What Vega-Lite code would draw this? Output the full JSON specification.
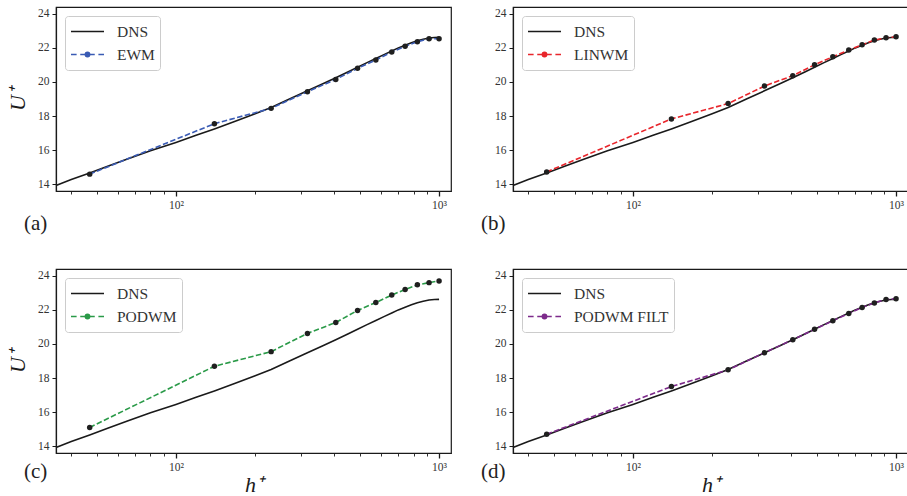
{
  "$schema": "https://vega.github.io/schema/vega-lite/v6.json",
  "padding": {"top": 6, "left": 5, "right": 0, "bottom": 0},
  "datasets": {
    "dns": [
      {"series": "DNS", "h": 35, "U": 13.93},
      {"series": "DNS", "h": 40, "U": 14.27},
      {"series": "DNS", "h": 47, "U": 14.66},
      {"series": "DNS", "h": 55, "U": 15.05},
      {"series": "DNS", "h": 65, "U": 15.46},
      {"series": "DNS", "h": 80, "U": 15.96},
      {"series": "DNS", "h": 100, "U": 16.45},
      {"series": "DNS", "h": 120, "U": 16.88},
      {"series": "DNS", "h": 140, "U": 17.24},
      {"series": "DNS", "h": 170, "U": 17.72},
      {"series": "DNS", "h": 200, "U": 18.13},
      {"series": "DNS", "h": 230, "U": 18.5},
      {"series": "DNS", "h": 270, "U": 19.0},
      {"series": "DNS", "h": 316, "U": 19.48},
      {"series": "DNS", "h": 360, "U": 19.88},
      {"series": "DNS", "h": 405, "U": 20.25},
      {"series": "DNS", "h": 450, "U": 20.58},
      {"series": "DNS", "h": 490, "U": 20.86},
      {"series": "DNS", "h": 530, "U": 21.12},
      {"series": "DNS", "h": 575, "U": 21.38},
      {"series": "DNS", "h": 620, "U": 21.62},
      {"series": "DNS", "h": 661, "U": 21.82},
      {"series": "DNS", "h": 700, "U": 22.0},
      {"series": "DNS", "h": 743, "U": 22.16},
      {"series": "DNS", "h": 785, "U": 22.3},
      {"series": "DNS", "h": 827, "U": 22.42},
      {"series": "DNS", "h": 870, "U": 22.51},
      {"series": "DNS", "h": 916, "U": 22.58},
      {"series": "DNS", "h": 960, "U": 22.61},
      {"series": "DNS", "h": 1000, "U": 22.62}
    ],
    "models": [
      {"panel": "a", "series": "EWM", "h": 47, "U": 14.59},
      {"panel": "a", "series": "EWM", "h": 140, "U": 17.55},
      {"panel": "a", "series": "EWM", "h": 230, "U": 18.45},
      {"panel": "a", "series": "EWM", "h": 316, "U": 19.43},
      {"panel": "a", "series": "EWM", "h": 405, "U": 20.15},
      {"panel": "a", "series": "EWM", "h": 490, "U": 20.8},
      {"panel": "a", "series": "EWM", "h": 575, "U": 21.29},
      {"panel": "a", "series": "EWM", "h": 661, "U": 21.76},
      {"panel": "a", "series": "EWM", "h": 743, "U": 22.09},
      {"panel": "a", "series": "EWM", "h": 827, "U": 22.36},
      {"panel": "a", "series": "EWM", "h": 916, "U": 22.54},
      {"panel": "a", "series": "EWM", "h": 1000, "U": 22.54},
      {"panel": "b", "series": "LINWM", "h": 47, "U": 14.72},
      {"panel": "b", "series": "LINWM", "h": 140, "U": 17.83},
      {"panel": "b", "series": "LINWM", "h": 230, "U": 18.73},
      {"panel": "b", "series": "LINWM", "h": 316, "U": 19.76},
      {"panel": "b", "series": "LINWM", "h": 405, "U": 20.37},
      {"panel": "b", "series": "LINWM", "h": 490, "U": 21.01},
      {"panel": "b", "series": "LINWM", "h": 575, "U": 21.48},
      {"panel": "b", "series": "LINWM", "h": 661, "U": 21.87},
      {"panel": "b", "series": "LINWM", "h": 743, "U": 22.18},
      {"panel": "b", "series": "LINWM", "h": 827, "U": 22.46},
      {"panel": "b", "series": "LINWM", "h": 916, "U": 22.59},
      {"panel": "b", "series": "LINWM", "h": 1000, "U": 22.65},
      {"panel": "c", "series": "PODWM", "h": 47, "U": 15.1},
      {"panel": "c", "series": "PODWM", "h": 140, "U": 18.69},
      {"panel": "c", "series": "PODWM", "h": 230, "U": 19.55},
      {"panel": "c", "series": "PODWM", "h": 316, "U": 20.62},
      {"panel": "c", "series": "PODWM", "h": 405, "U": 21.26},
      {"panel": "c", "series": "PODWM", "h": 490, "U": 21.97},
      {"panel": "c", "series": "PODWM", "h": 575, "U": 22.43},
      {"panel": "c", "series": "PODWM", "h": 661, "U": 22.87},
      {"panel": "c", "series": "PODWM", "h": 743, "U": 23.2},
      {"panel": "c", "series": "PODWM", "h": 827, "U": 23.47},
      {"panel": "c", "series": "PODWM", "h": 916, "U": 23.6},
      {"panel": "c", "series": "PODWM", "h": 1000, "U": 23.7},
      {"panel": "d", "series": "PODWM FILT", "h": 47, "U": 14.7},
      {"panel": "d", "series": "PODWM FILT", "h": 140, "U": 17.5},
      {"panel": "d", "series": "PODWM FILT", "h": 230, "U": 18.48},
      {"panel": "d", "series": "PODWM FILT", "h": 316, "U": 19.49},
      {"panel": "d", "series": "PODWM FILT", "h": 405, "U": 20.25},
      {"panel": "d", "series": "PODWM FILT", "h": 490, "U": 20.86},
      {"panel": "d", "series": "PODWM FILT", "h": 575, "U": 21.36},
      {"panel": "d", "series": "PODWM FILT", "h": 661, "U": 21.79},
      {"panel": "d", "series": "PODWM FILT", "h": 743, "U": 22.14},
      {"panel": "d", "series": "PODWM FILT", "h": 827, "U": 22.41},
      {"panel": "d", "series": "PODWM FILT", "h": 916, "U": 22.61},
      {"panel": "d", "series": "PODWM FILT", "h": 1000, "U": 22.65}
    ]
  },
  "vconcat": [
    {
      "hconcat": [
        {
          "title": {"text": "(a)"},
          "width": 395, "height": 184,
          "layer": [
            {"data": {"name": "dns"}, "mark": {"type": "line", "strokeWidth": 1.6},
             "encoding": {
               "x": {"field": "h", "type": "quantitative", "scale": {"type": "log", "domain": [35, 1110], "nice": false},
                     "axis": {"title": null, "values": [40,50,60,70,80,90,100,200,300,400,500,600,700,800,900,1000],
                              "labelExpr": "datum.value == 100 ? '10²' : datum.value == 1000 ? '10³' : ''",
                              "tickSize": {"condition": {"test": "datum.value == 100 || datum.value == 1000", "value": 5}, "value": 3},
                              "tickWidth": {"condition": {"test": "datum.value == 100 || datum.value == 1000", "value": 1.3}, "value": 0.9}}},
               "y": {"field": "U", "type": "quantitative", "scale": {"domain": [13.6, 24.4], "nice": false, "zero": false},
                     "axis": {"title": "U⁺", "values": [14,16,18,20,22,24], "labelOverlap": false, "tickCount": 6}},
               "color": {"field": "series", "type": "nominal", "scale": {"domain": ["DNS", "EWM"], "range": ["#1a1a1a", "#3a5bb4"]},
                         "legend": {"title": null, "encode": {"symbols": {"update": {"shape": {"signal": "datum.value === 'DNS' ? 'M-1,0H1' : 'M-1,0H-0.66M-0.44,0H-0.14M0.14,0H0.44M0.66,0H1M0.13,0A0.13,0.13 0 1,1 -0.13,0A0.13,0.13 0 1,1 0.13,0M0.05,0A0.05,0.05 0 1,1 -0.05,0A0.05,0.05 0 1,1 0.05,0'"}}}}}}
             }},
            {"data": {"name": "models"}, "transform": [{"filter": "datum.panel == 'a'"}],
             "mark": {"type": "line", "strokeWidth": 1.6, "strokeDash": [5.5, 2.4]},
             "encoding": {"x": {"field": "h", "type": "quantitative"}, "y": {"field": "U", "type": "quantitative"},
                          "color": {"field": "series", "type": "nominal"}}},
            {"data": {"name": "models"}, "transform": [{"filter": "datum.panel == 'a'"}],
             "mark": {"type": "point", "filled": true, "size": 30, "color": "#1f1f1f", "opacity": 1},
             "encoding": {"x": {"field": "h", "type": "quantitative"}, "y": {"field": "U", "type": "quantitative"}}}
          ]
        },
        {
          "title": {"text": "(b)"},
          "width": 395, "height": 184,
          "layer": [
            {"data": {"name": "dns"}, "mark": {"type": "line", "strokeWidth": 1.6},
             "encoding": {
               "x": {"field": "h", "type": "quantitative", "scale": {"type": "log", "domain": [35, 1110], "nice": false},
                     "axis": {"title": null, "values": [40,50,60,70,80,90,100,200,300,400,500,600,700,800,900,1000],
                              "labelExpr": "datum.value == 100 ? '10²' : datum.value == 1000 ? '10³' : ''",
                              "tickSize": {"condition": {"test": "datum.value == 100 || datum.value == 1000", "value": 5}, "value": 3},
                              "tickWidth": {"condition": {"test": "datum.value == 100 || datum.value == 1000", "value": 1.3}, "value": 0.9}}},
               "y": {"field": "U", "type": "quantitative", "scale": {"domain": [13.6, 24.4], "nice": false, "zero": false},
                     "axis": {"title": null, "values": [14,16,18,20,22,24], "labelOverlap": false, "tickCount": 6}},
               "color": {"field": "series", "type": "nominal", "scale": {"domain": ["DNS", "LINWM"], "range": ["#1a1a1a", "#e8262c"]},
                         "legend": {"title": null, "encode": {"symbols": {"update": {"shape": {"signal": "datum.value === 'DNS' ? 'M-1,0H1' : 'M-1,0H-0.66M-0.44,0H-0.14M0.14,0H0.44M0.66,0H1M0.13,0A0.13,0.13 0 1,1 -0.13,0A0.13,0.13 0 1,1 0.13,0M0.05,0A0.05,0.05 0 1,1 -0.05,0A0.05,0.05 0 1,1 0.05,0'"}}}}}}
             }},
            {"data": {"name": "models"}, "transform": [{"filter": "datum.panel == 'b'"}],
             "mark": {"type": "line", "strokeWidth": 1.6, "strokeDash": [5.5, 2.4]},
             "encoding": {"x": {"field": "h", "type": "quantitative"}, "y": {"field": "U", "type": "quantitative"},
                          "color": {"field": "series", "type": "nominal"}}},
            {"data": {"name": "models"}, "transform": [{"filter": "datum.panel == 'b'"}],
             "mark": {"type": "point", "filled": true, "size": 30, "color": "#1f1f1f", "opacity": 1},
             "encoding": {"x": {"field": "h", "type": "quantitative"}, "y": {"field": "U", "type": "quantitative"}}}
          ]
        }
      ],
      "spacing": 28,
      "resolve": {"scale": {"color": "independent"}, "legend": {"color": "independent"}}
    },
    {
      "hconcat": [
        {
          "title": {"text": "(c)", "dy": -37},
          "width": 395, "height": 184,
          "layer": [
            {"data": {"name": "dns"}, "mark": {"type": "line", "strokeWidth": 1.6},
             "encoding": {
               "x": {"field": "h", "type": "quantitative", "scale": {"type": "log", "domain": [35, 1110], "nice": false},
                     "axis": {"title": "h⁺", "values": [40,50,60,70,80,90,100,200,300,400,500,600,700,800,900,1000],
                              "labelExpr": "datum.value == 100 ? '10²' : datum.value == 1000 ? '10³' : ''",
                              "tickSize": {"condition": {"test": "datum.value == 100 || datum.value == 1000", "value": 5}, "value": 3},
                              "tickWidth": {"condition": {"test": "datum.value == 100 || datum.value == 1000", "value": 1.3}, "value": 0.9}}},
               "y": {"field": "U", "type": "quantitative", "scale": {"domain": [13.6, 24.4], "nice": false, "zero": false},
                     "axis": {"title": "U⁺", "values": [14,16,18,20,22,24], "labelOverlap": false, "tickCount": 6}},
               "color": {"field": "series", "type": "nominal", "scale": {"domain": ["DNS", "PODWM"], "range": ["#1a1a1a", "#2a9a48"]},
                         "legend": {"title": null, "encode": {"symbols": {"update": {"shape": {"signal": "datum.value === 'DNS' ? 'M-1,0H1' : 'M-1,0H-0.66M-0.44,0H-0.14M0.14,0H0.44M0.66,0H1M0.13,0A0.13,0.13 0 1,1 -0.13,0A0.13,0.13 0 1,1 0.13,0M0.05,0A0.05,0.05 0 1,1 -0.05,0A0.05,0.05 0 1,1 0.05,0'"}}}}}}
             }},
            {"data": {"name": "models"}, "transform": [{"filter": "datum.panel == 'c'"}],
             "mark": {"type": "line", "strokeWidth": 1.6, "strokeDash": [5.5, 2.4]},
             "encoding": {"x": {"field": "h", "type": "quantitative"}, "y": {"field": "U", "type": "quantitative"},
                          "color": {"field": "series", "type": "nominal"}}},
            {"data": {"name": "models"}, "transform": [{"filter": "datum.panel == 'c'"}],
             "mark": {"type": "point", "filled": true, "size": 30, "color": "#1f1f1f", "opacity": 1},
             "encoding": {"x": {"field": "h", "type": "quantitative"}, "y": {"field": "U", "type": "quantitative"}}}
          ]
        },
        {
          "title": {"text": "(d)", "dy": -37},
          "width": 395, "height": 184,
          "layer": [
            {"data": {"name": "dns"}, "mark": {"type": "line", "strokeWidth": 1.6},
             "encoding": {
               "x": {"field": "h", "type": "quantitative", "scale": {"type": "log", "domain": [35, 1110], "nice": false},
                     "axis": {"title": "h⁺", "values": [40,50,60,70,80,90,100,200,300,400,500,600,700,800,900,1000],
                              "labelExpr": "datum.value == 100 ? '10²' : datum.value == 1000 ? '10³' : ''",
                              "tickSize": {"condition": {"test": "datum.value == 100 || datum.value == 1000", "value": 5}, "value": 3},
                              "tickWidth": {"condition": {"test": "datum.value == 100 || datum.value == 1000", "value": 1.3}, "value": 0.9}}},
               "y": {"field": "U", "type": "quantitative", "scale": {"domain": [13.6, 24.4], "nice": false, "zero": false},
                     "axis": {"title": null, "values": [14,16,18,20,22,24], "labelOverlap": false, "tickCount": 6}},
               "color": {"field": "series", "type": "nominal", "scale": {"domain": ["DNS", "PODWM FILT"], "range": ["#1a1a1a", "#7d2b8b"]},
                         "legend": {"title": null, "encode": {"symbols": {"update": {"shape": {"signal": "datum.value === 'DNS' ? 'M-1,0H1' : 'M-1,0H-0.66M-0.44,0H-0.14M0.14,0H0.44M0.66,0H1M0.13,0A0.13,0.13 0 1,1 -0.13,0A0.13,0.13 0 1,1 0.13,0M0.05,0A0.05,0.05 0 1,1 -0.05,0A0.05,0.05 0 1,1 0.05,0'"}}}}}}
             }},
            {"data": {"name": "models"}, "transform": [{"filter": "datum.panel == 'd'"}],
             "mark": {"type": "line", "strokeWidth": 1.6, "strokeDash": [5.5, 2.4]},
             "encoding": {"x": {"field": "h", "type": "quantitative"}, "y": {"field": "U", "type": "quantitative"},
                          "color": {"field": "series", "type": "nominal"}}},
            {"data": {"name": "models"}, "transform": [{"filter": "datum.panel == 'd'"}],
             "mark": {"type": "point", "filled": true, "size": 30, "color": "#1f1f1f", "opacity": 1},
             "encoding": {"x": {"field": "h", "type": "quantitative"}, "y": {"field": "U", "type": "quantitative"}}}
          ]
        }
      ],
      "spacing": 28,
      "resolve": {"scale": {"color": "independent"}, "legend": {"color": "independent"}}
    }
  ],
  "spacing": 33,
  "resolve": {"scale": {"color": "independent"}, "legend": {"color": "independent"}},
  "config": {
    "font": "Liberation Serif",
    "view": {"stroke": "#1a1a1a", "strokeWidth": 1.2},
    "axis": {
      "domainColor": "#1a1a1a", "domainWidth": 1.2, "tickColor": "#1a1a1a", "grid": false, "labelOverlap": false,
      "labelColor": "#333333", "labelFont": "Liberation Serif", "labelFontSize": 11.5, "labelPadding": 3,
      "titleFont": "Liberation Serif", "titleFontSize": 22, "titleFontWeight": "normal", "titleFontStyle": "italic", "titleColor": "#1a1a1a"
    },
    "axisY": {"tickSize": 4, "titlePadding": 8},
    "axisX": {"titlePadding": 2},
    "legend": {
      "orient": "top-left", "offset": 9, "padding": 5, "rowPadding": 2,
      "fillColor": "white", "strokeColor": "#cccccc", "cornerRadius": 3,
      "labelFont": "Liberation Serif", "labelFontSize": 15.5, "labelColor": "#333333", "labelOffset": 12,
      "symbolSize": 1089, "symbolStrokeWidth": 1.6, "clipHeight": 21,
      "symbolType": "M-1,0H1"
    },
    "title": {
      "orient": "bottom", "anchor": "start", "frame": "group", "dx": -32, "offset": 2,
      "font": "Liberation Serif", "fontSize": 21, "fontWeight": "normal", "color": "#222222", "baseline": "top"
    }
  }
}
